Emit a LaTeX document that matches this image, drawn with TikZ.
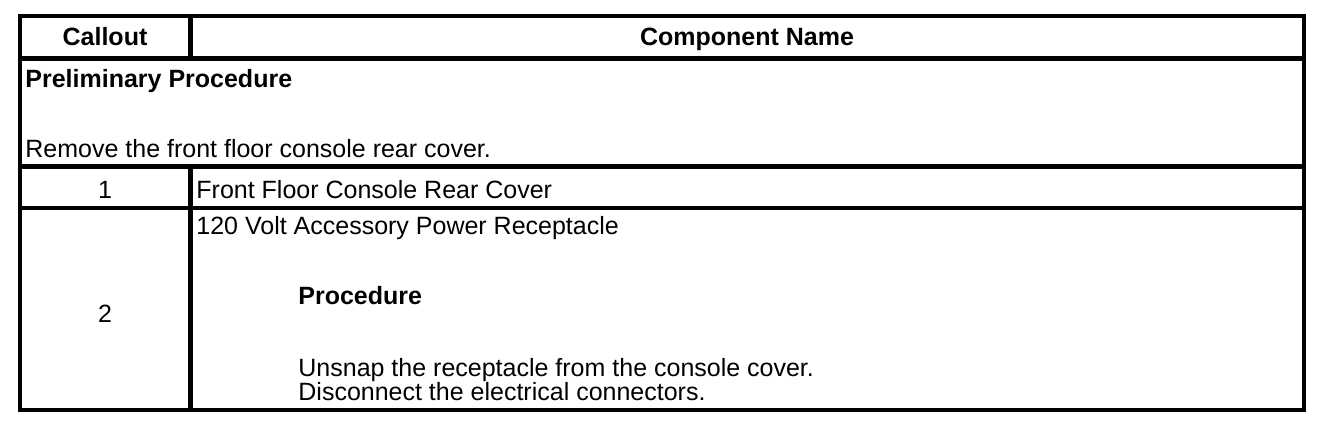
\documentclass[tikz,border=0pt]{standalone}
\usepackage{fontspec}
\setmainfont{Liberation Sans}

\tikzset{
  headtext/.style={font=\fontsize{12.5}{15}\selectfont\bfseries, anchor=base, inner sep=0pt},
  celltext/.style={font=\fontsize{12.5}{15}\selectfont, anchor=base west, inner sep=0pt},
  numtext/.style={font=\fontsize{12.5}{15}\selectfont, anchor=base, inner sep=0pt},
  thinrule/.style={line width=2pt},
  thickrule/.style={line width=2.6pt},
}

\begin{document}
\begin{tikzpicture}[x=0.5pt,y=-0.5pt]
\useasboundingbox (0,0) rectangle (1328,430);

% Table frame and rules
\draw[thinrule] (20,16) rectangle (1304,410);
\draw[thickrule] (20,58.5) -- (1304,58.5);
\draw[thickrule] (20,166.5) -- (1304,166.5);
\draw[thinrule] (20,208) -- (1304,208);
\draw[thickrule] (190.5,16) -- (190.5,58.5);
\draw[thickrule] (190.5,166.5) -- (190.5,410);

% Header row
\node[headtext] (callout) at (105,45) {Callout};
\node[headtext] (compname) at (747,45) {Component Name};

% Preliminary procedure
\node[celltext, font=\fontsize{12.5}{15}\selectfont\bfseries] (prelim) at (25,87) {Preliminary Procedure};
\node[celltext] (remove) at (25,157) {Remove the front floor console rear cover.};

% Row 1
\node[numtext] (num1) at (105,198) {1};
\node[celltext] (cover) at (196,198) {Front Floor Console Rear Cover};

% Row 2
\node[numtext] (num2) at (105,322) {2};
\node[celltext] (recept) at (196,234) {120 Volt Accessory Power Receptacle};
\node[celltext, font=\fontsize{12.5}{15}\selectfont\bfseries] (proc) at (298,304) {Procedure};
\node[celltext] (unsnap) at (298,376) {Unsnap the receptacle from the console cover.};
\node[celltext] (disc) at (298,400) {Disconnect the electrical connectors.};
\end{tikzpicture}
\end{document}
